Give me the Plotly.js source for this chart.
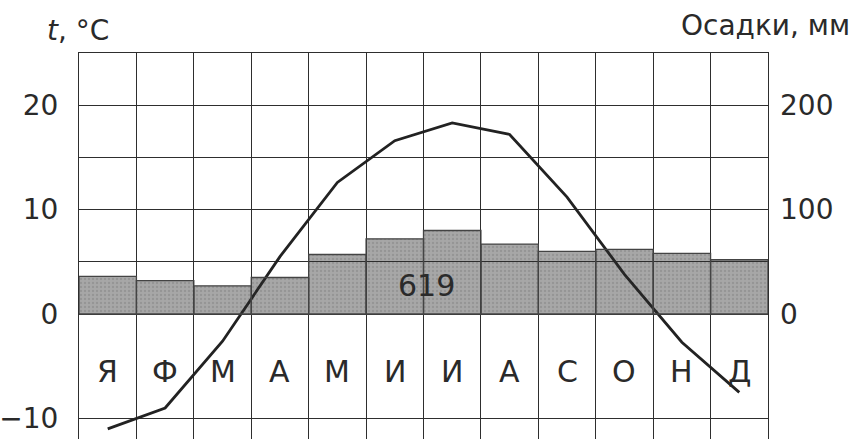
<!DOCTYPE html>
<html>
<head>
<meta charset="utf-8">
<script src="https://cdn.plot.ly/plotly-3.0.1.min.js"></script>
<style>
html,body{margin:0;padding:0;background:#fff;}
#chart{width:856px;height:439px;}
</style>
</head>
<body>
<div id="chart"></div>
<script>
// Months (Russian initials)
const months = ['Я','Ф','М','А','М','И','И','А','С','О','Н','Д'];
// Mean monthly temperature, °C
const temperature = [-11.0, -9.0, -2.6, 5.5, 12.6, 16.6, 18.3, 17.2, 11.2, 3.8, -2.7, -7.5];
// Monthly precipitation, mm
const precipitation = [36, 32, 27, 35, 57, 72, 80, 67, 60, 62, 58, 52];
// Annual total shown on chart
const annualTotal = '619';
// Tick labels
const tempTicks = [-10, 0, 5, 10, 15, 20, 25];
const tempTickText = ['\u221210', '0', '', '10', '', '20', ''];
const precTicks = [0, 100, 200];
const precTickText = ['0', '100', '200'];

const xs = months.map((_, i) => i + 1);
const colBounds = months.map((_, i) => i + 0.5).concat([months.length + 0.5]);

const FONT = '"DejaVu Sans", "Liberation Sans", Arial, sans-serif';
const TXT = '#2a2a2a';
const GRID = '#2e2e2e';

const bars = {
  type: 'bar',
  x: xs,
  y: precipitation,
  yaxis: 'y2',
  width: 1,
  marker: {
    color: 'rgba(45,45,45,0.42)',
    line: {color: '#444', width: 1.3},
    pattern: {shape: '.', fgcolor: 'rgba(0,0,0,0.22)', size: 4, solidity: 0.25, fillmode: 'overlay'}
  },
  hoverinfo: 'skip'
};

const line = {
  type: 'scatter',
  mode: 'lines',
  x: xs,
  y: temperature,
  yaxis: 'y',
  line: {color: '#222', width: 2.8},
  hoverinfo: 'skip'
};

const monthAnn = months.map((m, i) => ({
  x: xs[i], y: -5.5, xref: 'x', yref: 'y',
  text: m, showarrow: false,
  font: {family: FONT, size: 30, color: TXT},
  xanchor: 'center', yanchor: 'middle'
}));

const layout = {
  width: 856, height: 439,
  margin: {l: 79, r: 88, t: 53, b: 0},
  paper_bgcolor: '#fff', plot_bgcolor: '#fff',
  showlegend: false,
  bargap: 0,
  xaxis: {
    range: [0.5, 12.5],
    tickvals: colBounds,
    showticklabels: false,
    ticks: '',
    showgrid: true, gridcolor: GRID, gridwidth: 1,
    zeroline: false,
    showline: true, mirror: true, linecolor: GRID, linewidth: 1,
    fixedrange: true
  },
  yaxis: {
    range: [-11.97, 25],
    tickvals: tempTicks,
    ticktext: tempTickText,
    ticks: '',
    ticklabelstandoff: 14,
    tickfont: {family: FONT, size: 28, color: TXT},
    showgrid: true, gridcolor: GRID, gridwidth: 1,
    zeroline: false,
    showline: true, mirror: true, linecolor: GRID, linewidth: 1,
    fixedrange: true
  },
  yaxis2: {
    overlaying: 'y',
    side: 'right',
    range: [-119.7, 250],
    tickvals: precTicks,
    ticktext: precTickText,
    ticks: '',
    ticklabelstandoff: 11,
    tickfont: {family: FONT, size: 28, color: TXT},
    showgrid: false, zeroline: false, showline: false,
    fixedrange: true
  },
  annotations: monthAnn.concat([
    {
      x: 6.56, y: 2.7, xref: 'x', yref: 'y',
      text: annualTotal, showarrow: false,
      font: {family: FONT, size: 30, color: TXT},
      xanchor: 'center', yanchor: 'middle'
    },
    {
      x: -0.05, y: 1.057, xref: 'paper', yref: 'paper',
      text: '<i>t</i>, °C', showarrow: false,
      font: {family: FONT, size: 28, color: TXT},
      xanchor: 'left', yanchor: 'middle'
    },
    {
      x: 1.122, y: 1.07, xref: 'paper', yref: 'paper',
      text: 'Осадки, мм', showarrow: false,
      font: {family: FONT, size: 28, color: TXT},
      xanchor: 'right', yanchor: 'middle'
    }
  ])
};

Plotly.newPlot('chart', [bars, line], layout, {staticPlot: true, displayModeBar: false});
</script>
</body>
</html>
